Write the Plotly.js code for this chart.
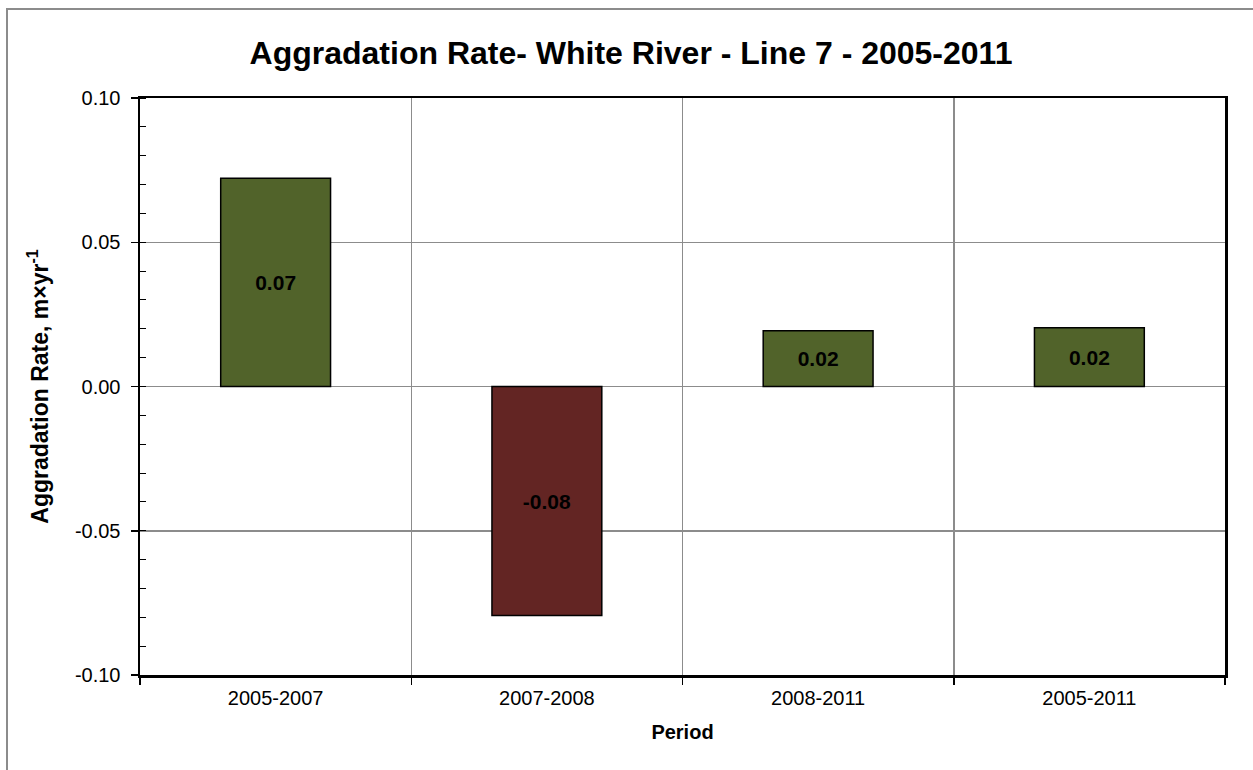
<!DOCTYPE html>
<html>
<head>
<meta charset="utf-8">
<script src="https://cdn.plot.ly/plotly-3.0.1.min.js"></script>
<style>
  html, body { margin: 0; padding: 0; background: #fff; overflow: hidden; }
  #chart { position: absolute; left: 0; top: 0; width: 1253px; height: 770px; }
  #frame { position: absolute; left: 6px; top: 8px; width: 1300px; height: 820px;
           border: 2px solid #8c8c8c; pointer-events: none; }
</style>
</head>
<body>
<div id="chart"></div>
<div id="frame"></div>
<script>
const periods = ["2005-2007", "2007-2008", "2008-2011", "2005-2011"];
const rates = [0.0722, -0.0794, 0.0193, 0.0204];
const barColors = ["#51632a", "#632523", "#51632a", "#51632a"];
const yTickValues = [-0.1, -0.05, 0, 0.05, 0.1];
const yTickLabels = ["-0.10", "-0.05", "0.00", "0.05", "0.10"];
const barLabels = rates.map(v => (v < 0 ? "-" : "") + Math.abs(v).toFixed(2));

const FONT = "Liberation Sans, Arial, sans-serif";

const trace = {
  type: "bar",
  x: periods,
  y: rates,
  marker: { color: barColors, line: { color: "#000000", width: 1.5 } },
  text: barLabels,
  texttemplate: "%{text}",
  textposition: "inside",
  insidetextanchor: "middle",
  constraintext: "none",
  textangle: 0,
  textfont: { family: FONT, size: 21, color: "#000000", weight: "bold" },
  hoverinfo: "skip"
};

const layout = {
  width: 1253,
  height: 770,
  margin: { l: 140, r: 28, t: 98, b: 95 },
  paper_bgcolor: "#ffffff",
  plot_bgcolor: "#ffffff",
  bargap: 0.595,
  showlegend: false,
  font: { family: FONT, color: "#000000" },
  title: {
    text: "Aggradation Rate- White River - Line 7 - 2005-2011",
    font: { family: FONT, size: 32, color: "#000000", weight: "bold" },
    x: 0.5036, xref: "container", xanchor: "center",
    y: 1 - 53 / 770, yref: "container", yanchor: "middle"
  },
  xaxis: {
    type: "category",
    tickson: "boundaries",
    ticks: "outside",
    ticklen: 7,
    tickwidth: 1.5,
    tickcolor: "#000000",
    showgrid: true,
    gridcolor: "#8c8c8c",
    gridwidth: 1.5,
    showline: true,
    linecolor: "#000000",
    linewidth: 2.5,
    mirror: true,
    tickfont: { family: FONT, size: 20, color: "#000000" },
    ticklabelstandoff: 3,
    title: { text: "Period", font: { family: FONT, size: 20, color: "#000000", weight: "bold" }, standoff: 18 },
    zeroline: false
  },
  yaxis: {
    range: [-0.1, 0.1],
    tickmode: "array",
    tickvals: yTickValues,
    ticktext: yTickLabels,
    ticks: "outside",
    ticklen: 7,
    tickwidth: 1.5,
    tickcolor: "#000000",
    minor: { dtick: 0.01, tick0: 0, ticks: "inside", ticklen: 6, tickwidth: 1, tickcolor: "#000000", showgrid: false },
    showgrid: true,
    gridcolor: "#8c8c8c",
    gridwidth: 1.5,
    showline: true,
    linecolor: "#000000",
    linewidth: 2.5,
    mirror: true,
    zeroline: false,
    tickfont: { family: FONT, size: 20, color: "#000000" },
    ticklabelstandoff: 6,
    title: { text: "Aggradation Rate, m×yr<sup>-1</sup>", font: { family: FONT, size: 23, color: "#000000", weight: "bold" }, standoff: 20 }
  }
};

Plotly.newPlot("chart", [trace], layout, { displayModeBar: false, staticPlot: true });
</script>
</body>
</html>
